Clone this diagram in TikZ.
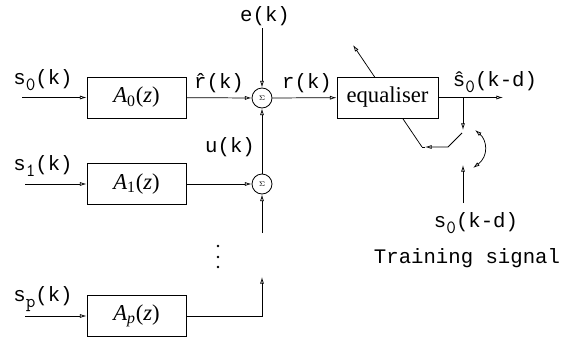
\documentclass[tikz,border=0pt]{standalone}
\usepackage{fontspec}
\setmainfont{Liberation Serif}
\newfontfamily\courfont{Liberation Mono}
\usetikzlibrary{arrows.meta}
\newcommand\lsub[1]{\raisebox{-4pt}{\ttfamily\fontsize{14}{15}\selectfont #1}}
\begin{document}
\begin{tikzpicture}[x=0.75pt,y=-0.75pt,
  blk/.style={draw, line width=0.6pt, minimum width=74.25pt, minimum height=30.75pt, inner sep=0pt, fill=white, font=\fontsize{17}{20}\selectfont},
  sumnode/.style={draw, circle, line width=0.6pt, minimum size=15pt, inner sep=0pt, fill=white},
  sig/.style={font=\courfont\fontsize{15.5}{17}\selectfont, inner sep=0pt},
  wire/.style={line width=0.55pt},
  tip/.tip={Latex[open,length=5pt,width=3pt]},
  arr/.style={wire, -tip},
]
\useasboundingbox (0,0) rectangle (566,339);

% blocks
\node[blk] (A0) at (136.5,97.5) {\textit{A}\textsubscript{0}(\textit{z})};
\node[blk] (A1) at (136.5,184) {\textit{A}\textsubscript{1}(\textit{z})};
\node[blk] (Ap) at (136.5,316) {\textit{A}\textsubscript{\textit{p}}(\textit{z})};

% summing junctions
\node[sumnode] (S0) at (262,98) {\tiny$\Sigma$};
\node[sumnode] (S1) at (262,184) {\tiny$\Sigma$};

% labels
\node[sig] (ls0) at (43,80) {s\lsub{0}(k)};
\node[sig] (ls1) at (43,166) {s\lsub{1}(k)};
\node[sig] (lsp) at (43,299) {s\lsub{p}(k)};
\node[sig] (lrh) at (219,83) {\^{r}(k)};
\node[sig] (le) at (265,16) {e(k)};
\node[sig] (lu) at (230,147) {u(k)};
\node[sig] (lr) at (307,83) {r(k)};
\node[sig] (lsh) at (495,82) {\^{s}\lsub{0}(k-d)};
\node[sig] (lsd) at (476,223) {s\lsub{0}(k-d)};
\node[sig] (ltr) at (467,258) {Training signal};

% free ends
\coordinate (in0) at (22,97.5);
\coordinate (in1) at (25,184);
\coordinate (inp) at (25,316);
\coordinate (etop) at (262,28);
\coordinate (s1b) at (262,233);
\coordinate (cp) at (262,316);
\coordinate (cptop) at (262,277);
\coordinate (out) at (503,97.5);
\coordinate (br) at (463,97.5);
\coordinate (brd) at (463,130);
\coordinate (sw) at (462,133);
\coordinate (swk) at (448,147);
\coordinate (adm) at (425,147);
\coordinate (adb) at (422,147);
\coordinate (adtop) at (353,45);
\coordinate (cvt) at (475,130);
\coordinate (cvb) at (473,168);
\coordinate (tsb) at (463,203);
\coordinate (tst) at (463,165);

% adaptation line (behind the equaliser box)
\draw[arr] (adb) -- (adtop);
\node[blk, minimum width=75.75pt] (EQ) at (387.5,97.5) {equaliser};

% connectors
\draw[arr] (in0) -- (A0);
\draw[arr] (in1) -- (A1);
\draw[arr] (inp) -- (Ap);
\draw[arr] (A0) -- (S0);
\draw[arr] (A1) -- (S1);
\draw[arr] (etop) -- (S0);
\draw[arr] (S1) -- (S0);
\draw[arr] (s1b) -- (S1);
\draw[arr] (Ap.east) -- (cp) -- (cptop);
\draw[arr] (S0) -- (EQ);
\draw[arr] (EQ) -- (out);
\draw[arr] (br) -- (brd);
\draw[arr] (sw) -- (swk) -- (adm);
\draw[wire] (adm) -- (adb);
\draw[wire, tip-tip] (cvt) .. controls (487,140) and (489,156) .. (cvb);
\draw[arr] (tsb) -- (tst);

% continuation dots
\fill (218,246) circle (1.1pt);
\fill (218,257) circle (1.1pt);
\fill (218,267) circle (1.1pt);
\end{tikzpicture}
\end{document}
